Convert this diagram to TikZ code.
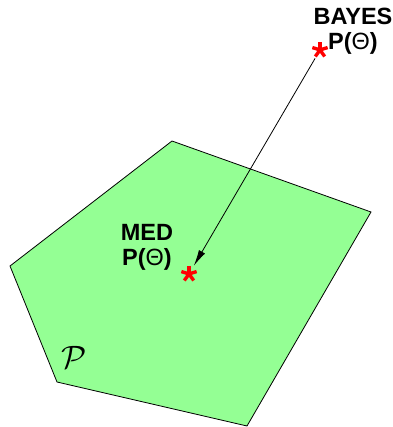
\documentclass[tikz,border=0pt]{standalone}
\usepackage{fontspec}
\setmainfont{Liberation Sans}
\usetikzlibrary{arrows.meta, positioning, calc}
\definecolor{regiongreen}{RGB}{148, 255, 148}
\definecolor{markred}{RGB}{255, 0, 0}

\tikzset{
    starmark/.style={circle, inner sep=0pt, minimum size=19pt,
        path picture={\foreach \a in {90,162,234,306,18}
            \draw[markred, line width=3.4pt] (path picture bounding box.center) -- ++(\a:8pt);}},
    pointlabel/.style={align=center, font=\fontsize{23.5}{25}\selectfont\bfseries, inner sep=0pt}
}

\begin{document}
\begin{tikzpicture}[x=1pt, y=-1pt]
            \useasboundingbox (0,0) rectangle (392,427);
            % feasible region
            \draw[fill=regiongreen, line width=0.8pt, line join=miter]
                (172,141) -- (371,212) -- (247,426) -- (57,382) -- (10,266) -- cycle;
            \node[inner sep=0pt, scale=1.3] (region) at (74,357) {\fontsize{24}{24}\selectfont$\mathcal{P}$};
            % points
            \node[starmark] (bayes) at (320,50) {};
            \node[starmark] (med) at (189,274) {};
            \node[pointlabel] (bayeslabel) at (353,31) {BAYES\\P({\mdseries Θ})};
            \node[pointlabel] (medlabel) at (147,247) {MED\\P({\mdseries Θ})};
            % projection
            \draw[line width=0.8pt, -{Latex[length=16pt, width=7pt]}] (bayes) -- (med);
        \end{tikzpicture}
\end{document}
